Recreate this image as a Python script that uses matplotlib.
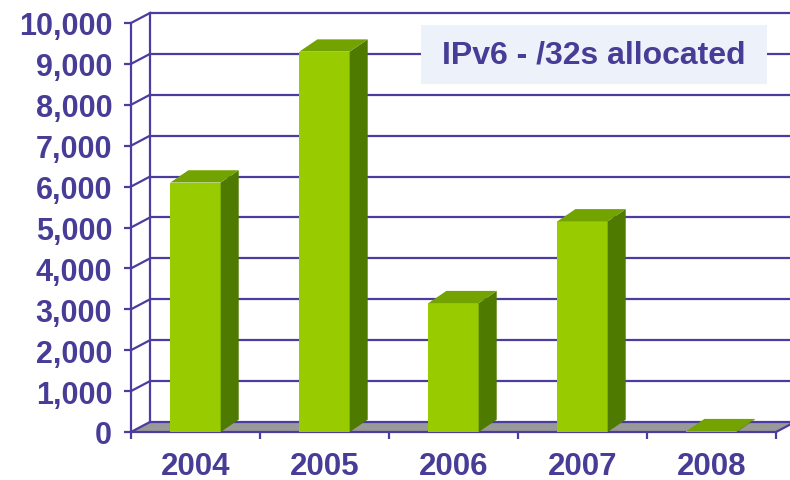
import matplotlib.pyplot as plt
from matplotlib.patches import Polygon, Rectangle
from matplotlib.ticker import FuncFormatter

# data
years = ['2004', '2005', '2006', '2007', '2008']
allocated = [6100, 9300, 3150, 5150, 20]
y_ticks = list(range(0, 10001, 1000))

purple = '#4B3CA0'
text_purple = '#473C96'
bar_front = '#99CC00'
bar_side = '#4E7A00'
bar_top = '#72A300'
floor_gray = '#999999'

# 3D offsets in data units (wall and bars)
wall_dx, wall_dy = 0.147, 245
bar_dx, bar_dy = 0.14, 300
bar_w = 0.39

plt.rcParams['font.family'] = ['Liberation Sans', 'DejaVu Sans']

fig = plt.figure(figsize=(7.9, 4.81), dpi=100)
ax = fig.add_axes([131 / 790, (481 - 433) / 481, 645 / 790, 409 / 481])
ax.set_xlim(0, len(years))
ax.set_ylim(0, 10000)
for s in ax.spines.values():
    s.set_visible(False)
ax.patch.set_alpha(0)

n = len(years)

# floor
floor = Polygon([(0, 0), (n, 0), (n + wall_dx, wall_dy), (wall_dx, wall_dy)],
                closed=True, facecolor=floor_gray, edgecolor='none', zorder=1, clip_on=False)
ax.add_patch(floor)

# back wall gridlines and side diagonals
for v in y_ticks:
    ax.plot([wall_dx, n + wall_dx], [v + wall_dy, v + wall_dy], color=purple, lw=1.6,
            zorder=2, clip_on=False, solid_capstyle='butt')
    ax.plot([0, wall_dx], [v, v + wall_dy], color=purple, lw=1.6, zorder=2, clip_on=False)
ax.plot([wall_dx, wall_dx], [wall_dy, 10000 + wall_dy], color=purple, lw=1.6, zorder=2, clip_on=False)
ax.plot([0, 0], [0, 10000], color=purple, lw=1.6, zorder=2, clip_on=False)
ax.plot([0, n], [0, 0], color=purple, lw=1.6, zorder=2, clip_on=False)
ax.plot([n, n + wall_dx], [0, wall_dy], color=purple, lw=1.6, zorder=2, clip_on=False)

# bars
for i, v in enumerate(allocated):
    x0 = i + 0.5 - bar_w / 2
    x1 = x0 + bar_w
    ax.bar(i + 0.5, v, width=bar_w, color=bar_front, zorder=5, clip_on=False)
    ax.add_patch(Polygon([(x1, 0), (x1 + bar_dx, bar_dy), (x1 + bar_dx, v + bar_dy), (x1, v)],
                         closed=True, facecolor=bar_side, edgecolor='none', zorder=5, clip_on=False))
    ax.add_patch(Polygon([(x0, v), (x1, v), (x1 + bar_dx, v + bar_dy), (x0 + bar_dx, v + bar_dy)],
                         closed=True, facecolor=bar_top, edgecolor='none', zorder=5, clip_on=False))

# ticks
ax.set_yticks(y_ticks)
ax.yaxis.set_major_formatter(FuncFormatter(lambda v, p: f'{int(v):,}'))
ax.tick_params(axis='y', direction='out', length=5, width=1.6, color=purple, pad=8.5,
               labelsize=22, labelcolor=text_purple)
for lbl in ax.get_yticklabels():
    lbl.set_fontweight('bold')

ax.set_xticks(range(n + 1))
ax.set_xticklabels([])
ax.set_xticks([i + 0.5 for i in range(n)], minor=True)
ax.set_xticklabels(years, minor=True, fontsize=22.5, fontweight='bold', color=text_purple)
ax.tick_params(axis='x', which='major', direction='out', length=5, width=1.6, color=purple)
ax.tick_params(axis='x', which='minor', length=0, pad=13.5)

# title box
fig.patches.append(Rectangle((421 / 790, 1 - 85 / 481), 346 / 790, 59 / 481,
                             transform=fig.transFigure, facecolor='#EDF1F9', edgecolor='none', zorder=10))
fig.text(594 / 790, 1 - 55 / 481, 'IPv6 - /32s allocated', ha='center', va='center',
         fontsize=23, fontweight='bold', color=text_purple, zorder=11)

fig.savefig('out.png', dpi=100)
